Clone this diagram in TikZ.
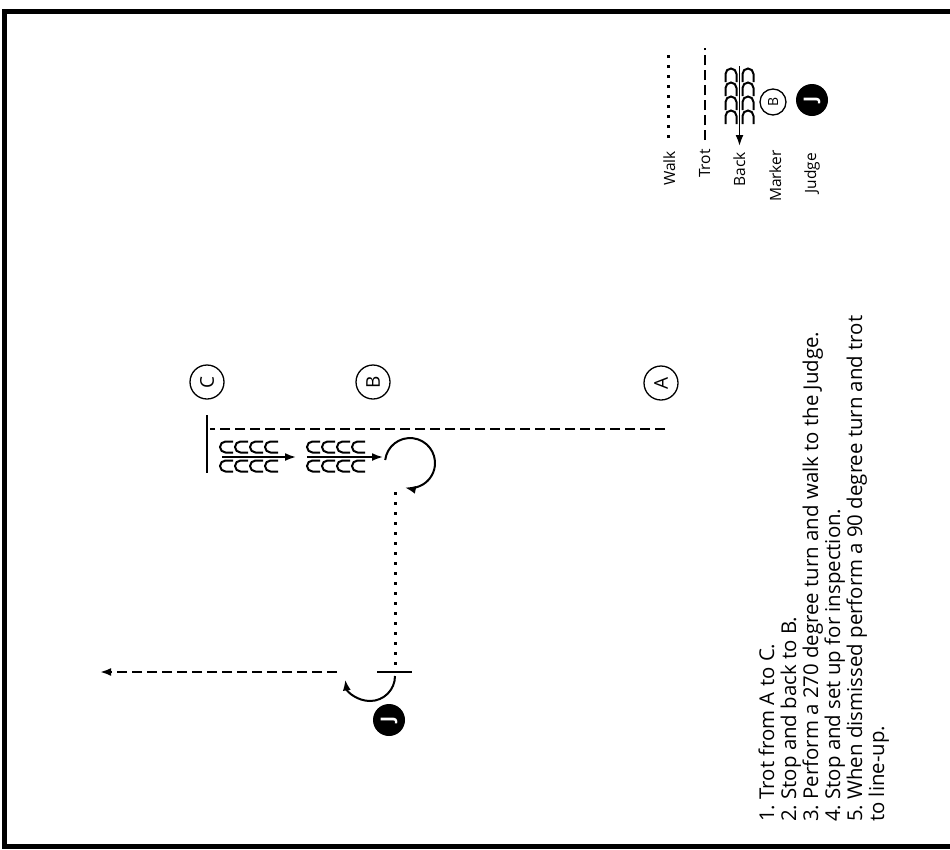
\documentclass[tikz,border=0pt]{standalone}
\usepackage{fontspec}
\setmainfont{Open Sans}
\usetikzlibrary{arrows.meta}
\frenchspacing
\begin{document}
\begin{tikzpicture}[x=1pt,y=-1pt,
  trotline/.style={line width=2.2pt, dash pattern=on 10pt off 5pt},
  walkline/.style={line width=3pt, dash pattern=on 3pt off 7pt},
  solidbar/.style={line width=2pt},
  arr/.style={-{Latex[length=11pt,width=8pt]}},
  marker/.style={circle, draw, line width=1.3pt, minimum size=34pt, inner sep=0pt, rotate=90, font=\fontsize{19}{19}\selectfont},
  smallmarker/.style={marker, minimum size=26pt, font=\fontsize{14}{14}\selectfont},
  judge/.style={circle, fill=black, minimum size=32pt, inner sep=0pt, rotate=90, text=white, font=\bfseries\fontsize{18}{18}\selectfont},
  lab/.style={rotate=90, anchor=base east, inner sep=0pt, font=\fontsize{15.5}{15.5}\selectfont},
  instr/.style={rotate=90, anchor=base west, inner sep=0pt, font=\fontsize{20.4}{20.4}\selectfont},
  hoofC/.pic={\draw[line width=2pt] (13,-5.5) -- (5.5,-5.5) arc[start angle=270, end angle=90, radius=5.5] -- (13,5.5);},
  hoofN/.pic={\draw[line width=2pt] (-5.5,8) -- (-5.5,0) arc[start angle=180, end angle=360, radius=5.5] -- (5.5,8);}
]
\useasboundingbox (0,0) rectangle (950,849);
\fill[white] (0,0) rectangle (950,849);
% border
\draw[line width=5pt] (950,11) -- (4.5,11) -- (4.5,846) -- (950,846);

% markers
\node[marker] (C) at (207,382) {C};
\node[marker] (B) at (373,382) {B};
\node[marker] (A) at (661,383) {A};

% trot A to C
\coordinate (trotA) at (665,429);
\coordinate (trotC) at (210,429);
\draw[trotline] (trotA) -- (trotC);
% stop bar at C
\coordinate (barT) at (207,415);
\coordinate (barB) at (207,473);
\draw[solidbar] (barT) -- (barB);

% back C to B
\foreach \x in {220,235,250,265} {
  \pic at (\x,447) {hoofC};
  \pic at (\x,466) {hoofC};
}
\coordinate (back1s) at (222,457);
\coordinate (back1e) at (296,457);
\draw[arr, line width=1.8pt] (back1s) -- (back1e);
\foreach \x in {307,322,337,352} {
  \pic at (\x,447) {hoofC};
  \pic at (\x,466) {hoofC};
}
\coordinate (back2s) at (307,457);
\coordinate (back2e) at (383,457);
\draw[arr, line width=1.8pt] (back2s) -- (back2e);

% 270 degree turn
\coordinate (turnS) at (385.2,460);
\draw[arr, line width=2pt] (turnS) arc[start angle=187, end angle=462, radius=25];

% walk to judge
\coordinate (walkS) at (395,492);
\coordinate (walkE) at (395,668);
\draw[walkline] (walkS) -- (walkE);
% stop bar at judge
\coordinate (jbarL) at (377,672);
\coordinate (jbarR) at (412,672);
\draw[solidbar] (jbarL) -- (jbarR);
% 90 degree turn
\coordinate (turn2S) at (395,676);
\draw[arr, line width=2pt] (turn2S) arc[start angle=0, end angle=172, radius=25];
% trot to line-up
\coordinate (exitS) at (337,672);
\coordinate (exitE) at (100,672);
\draw[trotline, arr] (exitS) -- (exitE);
% judge
\node[judge] (J) at (389,720) {J};

% legend
\coordinate (lw1) at (668,138);
\coordinate (lw2) at (668,50);
\draw[walkline] (lw1) -- (lw2);
\coordinate (lt1) at (705,140);
\coordinate (lt2) at (705,48);
\draw[trotline] (lt1) -- (lt2);
\foreach \y in {74,88,102,116} {
  \pic at (731,\y) {hoofN};
  \pic at (748,\y) {hoofN};
}
\coordinate (lb1) at (739.5,66);
\coordinate (lb2) at (739.5,146);
\draw[arr, line width=1.8pt] (lb1) -- (lb2);
\node[smallmarker] (legB) at (773,102) {B};
\node[judge] (legJ) at (812,100) {J};

\node[lab] (lWalk) at (675,151) {Walk};
\node[lab] (lTrot) at (710,149) {Trot};
\node[lab] (lBack) at (745,152) {Back};
\node[lab] (lMarker) at (781,150) {Marker};
\node[lab] (lJudge) at (816,153) {Judge};

% instructions
\node[instr] (i1) at (774,822) {1. Trot from A to C.};
\node[instr] (i2) at (796,822) {2. Stop and back to B.};
\node[instr] (i3) at (818,822) {3. Perform a 270 degree turn and walk to the Judge.};
\node[instr] (i4) at (840,822) {4. Stop and set up for inspection.};
\node[instr] (i5) at (862,822) {5. When dismissed perform a 90 degree turn and trot};
\node[instr] (i6) at (884,822) {to line-up.};
\end{tikzpicture}
\end{document}
